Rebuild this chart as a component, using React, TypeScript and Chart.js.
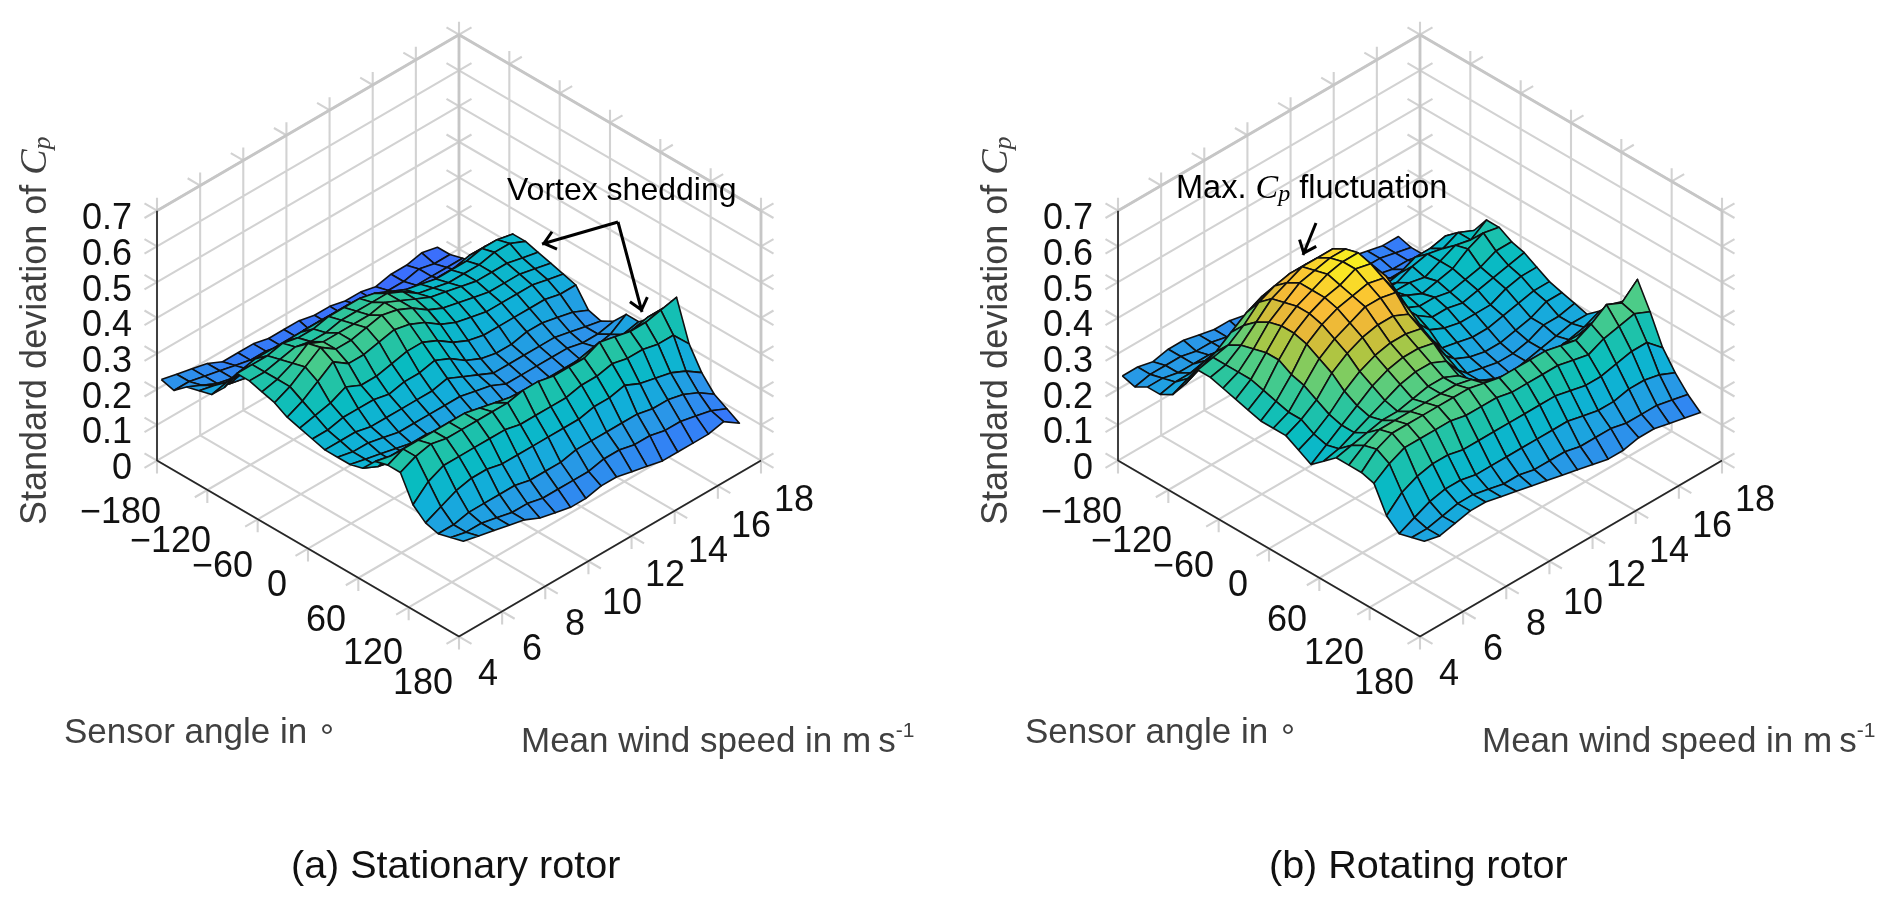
import { useEffect, useRef } from "react"
import { Chart, registerables } from "chart.js"

Chart.register(...registerables)

const angles = [-180, -165, -150, -135, -120, -105, -90, -75, -60, -45, -30, -15, 0, 15, 30, 45, 60, 75, 90, 105, 120, 135, 150, 165, 180]
const speeds = [4.2, 4.91, 5.62, 6.33, 7.04, 7.75, 8.46, 9.17, 9.88, 10.59, 11.3, 12.01, 12.72, 13.43, 14.14, 14.85, 15.56, 16.27, 17]

const angleTicks = [-180, -120, -60, 0, 60, 120, 180]
const speedTicks = [4, 6, 8, 10, 12, 14, 16, 18]
const cpTicks = [0, 0.1, 0.2, 0.3, 0.4, 0.5, 0.6, 0.7]

// std dev of Cp in hundredths, one row per angle, one column per speed
const stationaryStd = [
  [22, 21, 20, 19, 17, 17, 17, 16, 16, 16, 15, 15, 14, 14, 13, 14, 14, 15, 14],
  [21, 21, 20, 19, 18, 17, 17, 16, 16, 15, 15, 15, 15, 14, 14, 14, 15, 14, 14],
  [24, 22, 20, 19, 19, 18, 18, 17, 17, 16, 16, 16, 15, 15, 15, 15, 15, 15, 15],
  [25, 24, 22, 21, 21, 21, 21, 21, 20, 19, 18, 18, 18, 17, 17, 16, 16, 16, 16],
  [26, 27, 27, 26, 27, 28, 29, 29, 28, 26, 24, 23, 22, 21, 20, 20, 20, 20, 20],
  [30, 32, 33, 33, 33, 33, 33, 33, 33, 32, 30, 28, 27, 26, 26, 26, 27, 27, 26],
  [36, 36, 36, 37, 36, 36, 37, 37, 37, 36, 34, 32, 31, 30, 30, 30, 31, 31, 30],
  [36, 36, 37, 38, 37, 37, 38, 38, 38, 38, 36, 33, 32, 31, 31, 31, 32, 32, 30],
  [35, 36, 38, 41, 39, 39, 39, 39, 40, 38, 36, 34, 33, 32, 31, 31, 31, 30, 29],
  [34, 36, 39, 42, 39, 39, 40, 41, 40, 38, 35, 33, 32, 31, 30, 30, 30, 29, 28],
  [32, 34, 37, 40, 37, 37, 38, 39, 38, 36, 33, 31, 30, 29, 29, 29, 29, 28, 27],
  [31, 32, 33, 35, 33, 33, 34, 35, 35, 33, 30, 28, 27, 27, 27, 27, 27, 26, 26],
  [30, 30, 31, 31, 31, 30, 31, 31, 32, 30, 27, 25, 24, 24, 25, 25, 24, 23, 21],
  [29, 29, 29, 28, 28, 28, 28, 28, 29, 27, 25, 23, 23, 23, 23, 23, 22, 21, 20],
  [29, 28, 28, 27, 26, 26, 26, 26, 26, 25, 24, 22, 22, 22, 22, 22, 21, 21, 22],
  [29, 28, 27, 26, 25, 25, 24, 24, 24, 23, 22, 21, 21, 21, 21, 21, 22, 23, 26],
  [30, 28, 27, 26, 25, 25, 24, 23, 23, 22, 22, 21, 21, 21, 21, 22, 23, 25, 26],
  [34, 33, 33, 32, 31, 30, 28, 27, 26, 25, 25, 24, 25, 26, 26, 26, 27, 28, 29],
  [35, 37, 37, 37, 37, 37, 36, 35, 34, 33, 33, 33, 33, 34, 33, 33, 33, 34, 34],
  [35, 37, 38, 37, 37, 37, 37, 37, 38, 38, 37, 37, 37, 39, 38, 37, 37, 38, 39],
  [28, 32, 34, 34, 34, 34, 34, 33, 33, 33, 33, 34, 34, 35, 34, 34, 33, 33, 28],
  [25, 27, 29, 30, 30, 29, 29, 29, 29, 29, 29, 30, 30, 31, 29, 28, 27, 25, 22],
  [24, 24, 25, 25, 25, 25, 24, 24, 24, 25, 25, 25, 25, 25, 24, 24, 23, 21, 18],
  [25, 24, 24, 23, 22, 22, 21, 21, 21, 21, 22, 22, 21, 21, 20, 20, 19, 18, 16],
  [26, 25, 24, 23, 22, 20, 19, 18, 18, 19, 19, 18, 17, 16, 16, 16, 16, 17, 14],
]

const rotatingStd = [
  [23, 23, 22, 23, 23, 22, 21, 21, 20, 20, 19, 19, 19, 18, 18, 19, 18, 17, 17],
  [22, 23, 23, 23, 22, 22, 21, 20, 20, 20, 19, 20, 19, 18, 19, 18, 18, 17, 16],
  [24, 24, 23, 23, 23, 22, 22, 21, 21, 20, 20, 20, 20, 19, 18, 18, 17, 17, 16],
  [24, 25, 25, 26, 26, 26, 26, 25, 24, 23, 21, 20, 20, 21, 20, 19, 19, 18, 18],
  [26, 28, 30, 31, 33, 34, 34, 33, 31, 28, 25, 23, 22, 23, 22, 22, 22, 23, 21],
  [31, 33, 35, 38, 41, 43, 43, 42, 39, 34, 29, 27, 27, 26, 27, 29, 29, 30, 28],
  [37, 38, 39, 42, 46, 48, 49, 49, 48, 42, 35, 31, 29, 29, 31, 32, 31, 33, 31],
  [37, 38, 41, 45, 49, 51, 53, 53, 53, 46, 37, 33, 31, 31, 30, 32, 34, 33, 36],
  [36, 38, 42, 47, 50, 53, 54, 55, 55, 48, 39, 34, 32, 30, 31, 32, 35, 37, 36],
  [35, 38, 43, 48, 51, 53, 55, 56, 56, 49, 39, 33, 31, 31, 30, 31, 32, 34, 34],
  [34, 37, 43, 48, 51, 53, 54, 56, 55, 49, 38, 33, 30, 30, 29, 30, 31, 32, 33],
  [33, 36, 41, 47, 50, 52, 53, 54, 53, 46, 36, 31, 29, 28, 28, 28, 30, 31, 31],
  [33, 35, 40, 45, 48, 50, 52, 52, 51, 43, 34, 28, 27, 26, 26, 27, 28, 29, 29],
  [33, 35, 38, 43, 46, 48, 49, 49, 47, 40, 31, 27, 25, 24, 24, 25, 26, 28, 28],
  [31, 33, 36, 40, 43, 45, 46, 46, 45, 38, 29, 25, 24, 23, 23, 24, 26, 26, 27],
  [29, 32, 35, 38, 41, 43, 44, 44, 43, 36, 28, 25, 23, 22, 23, 24, 25, 26, 26],
  [32, 33, 35, 37, 39, 41, 42, 42, 40, 34, 27, 24, 23, 22, 24, 24, 26, 27, 29],
  [35, 36, 37, 38, 38, 39, 40, 40, 38, 33, 28, 26, 25, 25, 26, 27, 29, 31, 33],
  [35, 38, 40, 40, 40, 40, 40, 40, 39, 36, 34, 33, 33, 33, 34, 34, 35, 36, 36],
  [35, 39, 41, 41, 41, 41, 41, 41, 40, 39, 39, 39, 39, 38, 37, 39, 42, 40, 44],
  [34, 37, 39, 39, 39, 39, 38, 38, 38, 37, 37, 37, 37, 36, 35, 37, 38, 39, 37],
  [27, 31, 33, 34, 34, 33, 33, 33, 33, 33, 33, 33, 32, 31, 31, 32, 33, 33, 29],
  [24, 26, 28, 29, 29, 28, 28, 28, 28, 28, 28, 28, 27, 26, 26, 27, 27, 26, 24],
  [25, 25, 26, 27, 27, 26, 25, 25, 24, 24, 24, 23, 23, 23, 22, 22, 22, 21, 20],
  [26, 25, 26, 27, 27, 26, 25, 24, 23, 22, 21, 20, 19, 19, 20, 20, 19, 18, 17],
]

// colour by Cp level, close to parula as the figure shows it
const colorLevels = [0.12, 0.17, 0.22, 0.28, 0.33, 0.37, 0.4, 0.43, 0.46, 0.49, 0.52, 0.56]
const colorRgb = [
  [64, 100, 255], [52, 125, 248], [42, 150, 232], [16, 176, 216], [8, 188, 192], [40, 196, 160],
  [76, 204, 136], [128, 204, 96], [184, 196, 60], [232, 184, 56], [251, 189, 53], [248, 240, 32],
]

const colorFor = (z: number) => {
  let k = 0
  while (k < colorLevels.length - 2 && z > colorLevels[k + 1]) k++
  const t = Math.min(1, Math.max(0, (z - colorLevels[k]) / (colorLevels[k + 1] - colorLevels[k])))
  const c = colorRgb[k].map((v, n) => Math.round(v + (colorRgb[k + 1][n] - v) * t))
  return `rgb(${c[0]},${c[1]},${c[2]})`
}

// view of the box on the page
const project = (a: number, s: number, z: number) => {
  const u = (a + 180) / 360
  const v = (s - 4) / 14
  return { x: 157 + 302 * (u + v), y: 460.6 + 176 * (u - v) - 357 * z }
}

const GAP = { x: NaN, y: NaN }
type Pt = { x: number; y: number }
const shift = (p: Pt, dx: number, dy: number) => ({ x: p.x + dx, y: p.y + dy })

const boxLines = () => {
  const thin: Pt[] = []
  const seg = (p: Pt, q: Pt) => thin.push(p, q, GAP)
  const tx = 12.5
  const ty = 7.3
  for (const a of angleTicks) {
    const front = project(a, 4, 0)
    const back = project(a, 18, 0)
    seg(shift(front, -tx, ty), back)
    seg(front, shift(front, 0, 13))
    const top = project(a, 18, 0.7)
    seg(back, shift(top, 0, -13))
    seg(top, shift(top, tx, -ty))
  }
  for (const s of speedTicks) {
    const left = project(-180, s, 0)
    const right = project(180, s, 0)
    seg(left, shift(right, tx, ty))
    seg(right, shift(right, 0, 13))
    const top = project(-180, s, 0.7)
    seg(left, shift(top, 0, -13))
    seg(top, shift(top, -tx, -ty))
  }
  for (const z of cpTicks) {
    const left = project(-180, 4, z)
    const mid = project(-180, 18, z)
    const right = project(180, 18, z)
    seg(shift(left, -tx, ty), shift(mid, tx, -ty))
    seg(shift(mid, -tx, -ty), shift(right, tx, ty))
    seg(left, shift(left, -tx, -ty))
    seg(right, shift(right, tx, -ty))
  }
  const heavy = [
    project(-180, 4, 0.7), project(-180, 18, 0.7), project(180, 18, 0.7), GAP,
    project(-180, 18, 0), project(-180, 18, 0.7), GAP,
    project(180, 18, 0), project(180, 18, 0.7),
  ]
  const axes = [
    project(-180, 4, 0.7), project(-180, 4, 0), project(180, 4, 0), project(180, 18, 0),
  ]
  return { thin, heavy, axes }
}

const surfaceQuads = (grid: number[][]) => {
  const quads: { points: Pt[]; fill: string }[] = []
  for (let i = 0; i < angles.length - 1; i++) {
    for (let j = speeds.length - 2; j >= 0; j--) {
      const z00 = grid[i][j] / 100
      const z10 = grid[i + 1][j] / 100
      const z11 = grid[i + 1][j + 1] / 100
      const z01 = grid[i][j + 1] / 100
      const corner = project(angles[i], speeds[j], z00)
      quads.push({
        points: [
          corner,
          project(angles[i + 1], speeds[j], z10),
          project(angles[i + 1], speeds[j + 1], z11),
          project(angles[i], speeds[j + 1], z01),
          corner,
        ],
        fill: colorFor((z00 + z10 + z11 + z01) / 4),
      })
    }
  }
  return quads
}

const arrowLines = (x0: number, y0: number, x1: number, y1: number) => {
  const len = Math.hypot(x1 - x0, y1 - y0)
  const ux = (x1 - x0) / len
  const uy = (y1 - y0) / len
  const barb = (side: number) => ({
    x: x1 - ux * 13 + side * uy * 9,
    y: y1 - uy * 13 - side * ux * 9,
  })
  return [{ x: x0, y: y0 }, { x: x1, y: y1 }, GAP, barb(1), { x: x1 - ux * 2, y: y1 - uy * 2 }, barb(-1), GAP]
}

const SANS = "Liberation Sans"
const tickLabels: [string, number, number, CanvasTextAlign][] = [
  ["0.7", 132, 219, "right"], ["0.6", 132, 255, "right"], ["0.5", 132, 291, "right"], ["0.4", 132, 326, "right"],
  ["0.3", 132, 362, "right"], ["0.2", 132, 398, "right"], ["0.1", 132, 433, "right"], ["0", 132, 469, "right"],
  ["\u2212180", 161, 513, "right"], ["\u2212120", 211, 542, "right"], ["\u221260", 253, 567, "right"], ["0", 287, 586, "right"],
  ["60", 346, 621, "right"], ["120", 403, 654, "right"], ["180", 453, 684, "right"],
  ["4", 488, 675, "center"], ["6", 532, 650, "center"], ["8", 575, 625, "center"], ["10", 622, 604, "center"],
  ["12", 665, 576, "center"], ["14", 708, 552, "center"], ["16", 751, 527, "center"], ["18", 794, 501, "center"],
]

type Run = { text: string; font: string; dy?: number }

const drawRuns = (ctx: CanvasRenderingContext2D, runs: Run[], x: number, y: number) => {
  let at = x
  for (const r of runs) {
    ctx.font = r.font
    ctx.fillText(r.text, at, y + (r.dy ?? 0))
    at += ctx.measureText(r.text).width
  }
}

type PanelProps = {
  left: number
  width: number
  grid: number[][]
  caption: string
  captionX: number
  note: Run[]
  noteX: number
  noteY: number
  arrows: number[][]
}

function Panel({ left, width, grid, caption, captionX, note, noteX, noteY, arrows }: PanelProps) {
  const canvasRef = useRef<HTMLCanvasElement>(null)
  const chartRef = useRef<Chart | null>(null)

  useEffect(() => {
    if (!canvasRef.current) return
    if (chartRef.current) chartRef.current.destroy()

    const { thin, heavy, axes } = boxLines()
    const line = (data: Pt[], color: string, w: number) => ({
      data,
      showLine: true,
      pointRadius: 0,
      borderColor: color,
      borderWidth: w,
      fill: false,
      tension: 0,
    })
    const painted: any[] = [
      line(thin, "#d2d2d2", 2.1),
      line(heavy, "#c6c6c6", 2.8),
      line(axes, "#262626", 1.7),
      ...surfaceQuads(grid).map((q) => ({
        data: q.points,
        showLine: true,
        pointRadius: 0,
        borderColor: "#101010",
        borderWidth: 1.6,
        borderJoinStyle: "round",
        backgroundColor: q.fill,
        fill: "shape",
        tension: 0,
      })),
      line(arrows.flatMap((a) => arrowLines(a[0], a[1], a[2], a[3])), "#000000", 3),
    ]
    // the first dataset is drawn last
    const datasets = painted.reverse()

    const labelPlugin = {
      id: "panelLabels",
      afterDraw(chart: Chart) {
        const ctx = chart.ctx
        ctx.save()
        ctx.textBaseline = "middle"
        ctx.fillStyle = "#111111"
        ctx.font = `36px "${SANS}"`
        for (const [text, x, y, align] of tickLabels) {
          ctx.textAlign = align
          ctx.fillText(text, x, y)
        }
        ctx.textAlign = "left"
        ctx.fillStyle = "#404040"
        ctx.font = `35px "${SANS}"`
        ctx.fillText("Sensor angle in", 64, 733)
        ctx.fillText("\u00B0", 320, 739)
        drawRuns(ctx, [
          { text: "Mean wind speed in m\u2009s", font: `35px "${SANS}"` },
          { text: "-1", font: `21px "${SANS}"`, dy: -11 },
        ], 521, 742)
        ctx.save()
        ctx.translate(36, 525)
        ctx.rotate(-Math.PI / 2)
        drawRuns(ctx, [
          { text: "Standard deviation of ", font: `36px "${SANS}"` },
          { text: "C", font: `italic 38px "Liberation Serif"` },
          { text: "p", font: `italic 26px "Liberation Serif"`, dy: 7 },
        ], 0, 0)
        ctx.restore()
        ctx.fillStyle = "#000000"
        drawRuns(ctx, note, noteX, noteY)
        ctx.font = `39.5px "${SANS}"`
        ctx.fillStyle = "#111111"
        ctx.fillText(caption, captionX, 867)
        ctx.restore()
      },
    }

    chartRef.current = new Chart(canvasRef.current, {
      type: "scatter",
      data: { datasets },
      options: {
        responsive: false,
        animation: false,
        layout: { padding: 0 },
        scales: {
          x: { type: "linear", display: false, min: 0, max: width },
          y: { type: "linear", display: false, min: 0, max: 904, reverse: true },
        },
        plugins: { legend: { display: false }, tooltip: { enabled: false } },
      },
      plugins: [labelPlugin],
    } as any)

    return () => {
      if (chartRef.current) chartRef.current.destroy()
      chartRef.current = null
    }
  }, [])

  return (
    <canvas
      ref={canvasRef}
      width={width}
      height={904}
      style={{ position: "absolute", left, top: 0, width, height: 904 }}
    />
  )
}

export default function App() {
  return (
    <div style={{ position: "absolute", left: 0, top: 0, width: 1892, height: 904, background: "#ffffff", overflow: "hidden" }}>
      <Panel
        left={0}
        width={961}
        grid={stationaryStd}
        caption="(a) Stationary rotor"
        captionX={291}
        note={[{ text: "Vortex shedding", font: `32px "${SANS}"` }]}
        noteX={507}
        noteY={191}
        arrows={[[618, 222, 542, 244], [618, 222, 642, 312]]}
      />
      <Panel
        left={961}
        width={931}
        grid={rotatingStd}
        caption="(b) Rotating rotor"
        captionX={308}
        note={[
          { text: "Max. ", font: `32.5px "${SANS}"` },
          { text: "C", font: `italic 34px "Liberation Serif"` },
          { text: "p", font: `italic 24px "Liberation Serif"`, dy: 6 },
          { text: " fluctuation", font: `32.5px "${SANS}"` },
        ]}
        noteX={215}
        noteY={189}
        arrows={[[355, 223, 342, 255]]}
      />
    </div>
  )
}
